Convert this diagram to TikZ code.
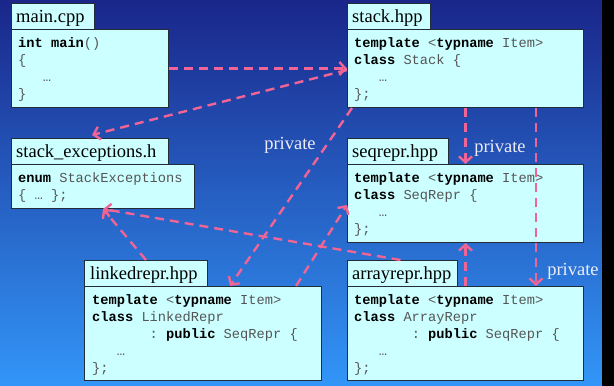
\documentclass[tikz,border=0pt]{standalone}
\usepackage{fontspec}
\setmainfont{Liberation Serif}
\setmonofont{Liberation Mono}
\usetikzlibrary{arrows.meta,calc}
\definecolor{bgtop}{RGB}{26,38,138}
\definecolor{bgbot}{RGB}{50,150,248}
\definecolor{boxfill}{RGB}{204,255,255}
\definecolor{boxline}{RGB}{35,45,55}
\definecolor{pinkline}{RGB}{240,100,150}
\definecolor{codegray}{RGB}{85,85,85}
\definecolor{labelwhite}{RGB}{236,236,246}
\newcommand\kw[1]{\textbf{\color{black}#1}}
\newcommand\ind[1]{\hspace*{#1\fontcharwd\font`x}}
\begin{document}
\begin{tikzpicture}[x=1pt,y=-1pt,
  panel/.style={draw=boxline, line width=1pt, fill=boxfill, inner sep=0pt, anchor=north west},
  titletext/.style={font=\fontsize{18.5}{20}\selectfont, text=black, inner sep=0pt, anchor=base west},
  code/.style={font=\fontsize{13.7}{17}\selectfont\ttfamily, text=codegray, inner sep=0pt, anchor=base west},
  dep/.style={draw=pinkline, line width=2.4pt, dash pattern=on 9pt off 6pt, -{Straight Barb[length=6pt,width=13pt]}},
  privlabel/.style={font=\fontsize{18.5}{20}\selectfont, text=labelwhite, inner sep=0pt}]
\useasboundingbox (0,0) rectangle (614,386);
\shade[top color=bgtop, bottom color=bgbot] (0,0) rectangle (602,386);
\fill[black] (602,0) rectangle (614,386);

% main.cpp
\node[panel, minimum width=83, minimum height=26] (mt) at (11,3) {};
\node[panel, minimum width=157, minimum height=78] (mb) at (11,29) {};
\node[titletext] (mtl) at (16,22) {main.cpp};
\node[code] (mc) at (18,47.5) {\vtop{\hbox{\kw{int} \kw{main}()}\hbox{\{}\hbox{\ind{3}…}\hbox{\}}}};

% stack.hpp
\node[panel, minimum width=83, minimum height=26] (st) at (347,3) {};
\node[panel, minimum width=236, minimum height=78] (sb) at (347,29) {};
\node[titletext] (stl) at (352,22) {stack.hpp};
\node[code] (sc) at (354,47.5) {\vtop{\hbox{\kw{template} <\kw{typname} Item>}\hbox{\kw{class} Stack \{}\hbox{\ind{3}…}\hbox{\};}}};

% stack_exceptions.h
\node[panel, minimum width=157, minimum height=26] (et) at (11,138) {};
\node[panel, minimum width=183, minimum height=44] (eb) at (11,164) {};
\node[titletext] (etl) at (16,157) {stack\_exceptions.h};
\node[code] (ec) at (18,182.5) {\vtop{\hbox{\kw{enum} StackExceptions}\hbox{\{ … \};}}};

% seqrepr.hpp
\node[panel, minimum width=101, minimum height=26] (qt) at (347,138) {};
\node[panel, minimum width=236, minimum height=78] (qb) at (347,164) {};
\node[titletext] (qtl) at (352,157) {seqrepr.hpp};
\node[code] (qc) at (354,182.5) {\vtop{\hbox{\kw{template} <\kw{typname} Item>}\hbox{\kw{class} SeqRepr \{}\hbox{\ind{3}…}\hbox{\};}}};

% linkedrepr.hpp
\node[panel, minimum width=123, minimum height=26] (lt) at (84,260) {};
\node[panel, minimum width=237, minimum height=94] (lb) at (84,286) {};
\node[titletext] (ltl) at (90,279) {linkedrepr.hpp};
\node[code] (lc) at (92,304.5) {\vtop{\hbox{\kw{template} <\kw{typname} Item>}\hbox{\kw{class} LinkedRepr}\hbox{\ind{7}: \kw{public} SeqRepr \{}\hbox{\ind{3}…}\hbox{\};}}};

% arrayrepr.hpp
\node[panel, minimum width=110, minimum height=26] (at) at (347,260) {};
\node[panel, minimum width=236, minimum height=94] (ab) at (347,286) {};
\node[titletext] (atl) at (352,279) {arrayrepr.hpp};
\node[code] (ac) at (354,304.5) {\vtop{\hbox{\kw{template} <\kw{typname} Item>}\hbox{\kw{class} ArrayRepr}\hbox{\ind{7}: \kw{public} SeqRepr \{}\hbox{\ind{3}…}\hbox{\};}}};

% connectors
\draw[dep] (mb.east) -- (sb.west);
\draw[dep] ($(sb.north west)+(0,41)$) -- ($(et.north)+(2,-3)$);
\draw[dep] ($(sb.south west)+(5,0)$) -- ($(lb.north west)+(146,0)$);
\draw[dep] (sb.south) -- (qb.north);
\draw[dep] ($(sb.south east)+(-48,0)$) -- ($(ab.north east)+(-48,0)$);
\draw[dep] (ab.north) -- (qb.south);
\draw[dep] ($(lb.north east)+(-26,0)$) -- ($(qb.north west)+(0,41)$);
\draw[dep] (lt.north) -- (eb.south);
\draw[dep] ($(at.north)+(-2,0)$) -- (eb.south);

% labels
\node[privlabel] (p1) at (290,145) {private};
\node[privlabel] (p2) at (500,148) {private};
\node[privlabel] (p3) at (573,271) {private};
\end{tikzpicture}
\end{document}
